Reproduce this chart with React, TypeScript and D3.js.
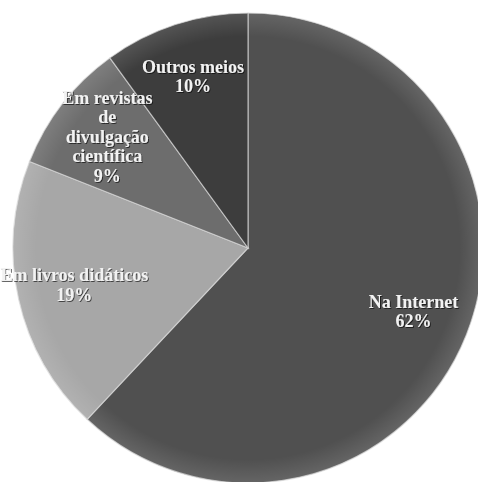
import React from 'react';
import * as d3 from 'd3';

const categories = ['Na Internet', 'Em livros didáticos', 'Em revistas de divulgação científica', 'Outros meios'];
const values = [62, 19, 9, 10];
const labelLines = [['Na Internet'], ['Em livros didáticos'], ['Em revistas', 'de', 'divulgação', 'científica'], ['Outros meios']];
const colors = ['#505050', '#a7a7a7', '#6d6d6d', '#3d3d3d'];

const W = 478;
const H = 482;
const cx = 248;
const cy = 248;
const radius = 235;

const App = () => {
  const pie = d3.pie<number>().sort(null).value(d => d);
  const arcs = pie(values);
  const arc = d3.arc<d3.PieArcDatum<number>>().innerRadius(0).outerRadius(radius);
  const labelArc = d3.arc<d3.PieArcDatum<number>>().innerRadius(178).outerRadius(178);
  const color = d3.scaleOrdinal<string, string>().domain(categories).range(colors);
  const lineH = 19.5;

  return (
    <svg width={W} height={H} style={{ position: 'absolute', left: 0, top: 0, background: '#fff' }}>
      <defs>
        <filter id="txtShadow" x="-10%" y="-10%" width="120%" height="140%">
          <feDropShadow dx="1" dy="1" stdDeviation="0.6" floodColor="#000" floodOpacity="0.6" />
        </filter>
        <radialGradient id="shade" cx="0.5" cy="0.5" r="0.5">
          <stop offset="0.9" stopColor="#fff" stopOpacity="0" />
          <stop offset="1" stopColor="#fff" stopOpacity="0.12" />
        </radialGradient>
      </defs>
      <g transform={`translate(${cx},${cy})`}>
        {arcs.map((a, i) => (
          <path key={i} d={arc(a) ?? ''} fill={color(categories[i])} stroke="#d8d8d8" strokeWidth={1.2} strokeOpacity={0.7} />
        ))}
        <circle r={radius} fill="url(#shade)" />
        {arcs.map((a, i) => {
          const [lx, ly] = labelArc.centroid(a);
          const lines = [...labelLines[i], `${values[i]}%`];
          const y0 = ly - ((lines.length - 1) * lineH) / 2;
          return (
            <text
              key={i}
              x={lx}
              y={y0}
              textAnchor="middle"
              dominantBaseline="middle"
              fontFamily="'Liberation Serif', 'Times New Roman', serif"
              fontWeight="bold"
              fontSize={18}
              fill="#f2f2f2"
              filter="url(#txtShadow)"
            >
              {lines.map((t, j) => (
                <tspan key={j} x={lx} y={y0 + j * lineH}>{t}</tspan>
              ))}
            </text>
          );
        })}
      </g>
    </svg>
  );
};

export default App;
